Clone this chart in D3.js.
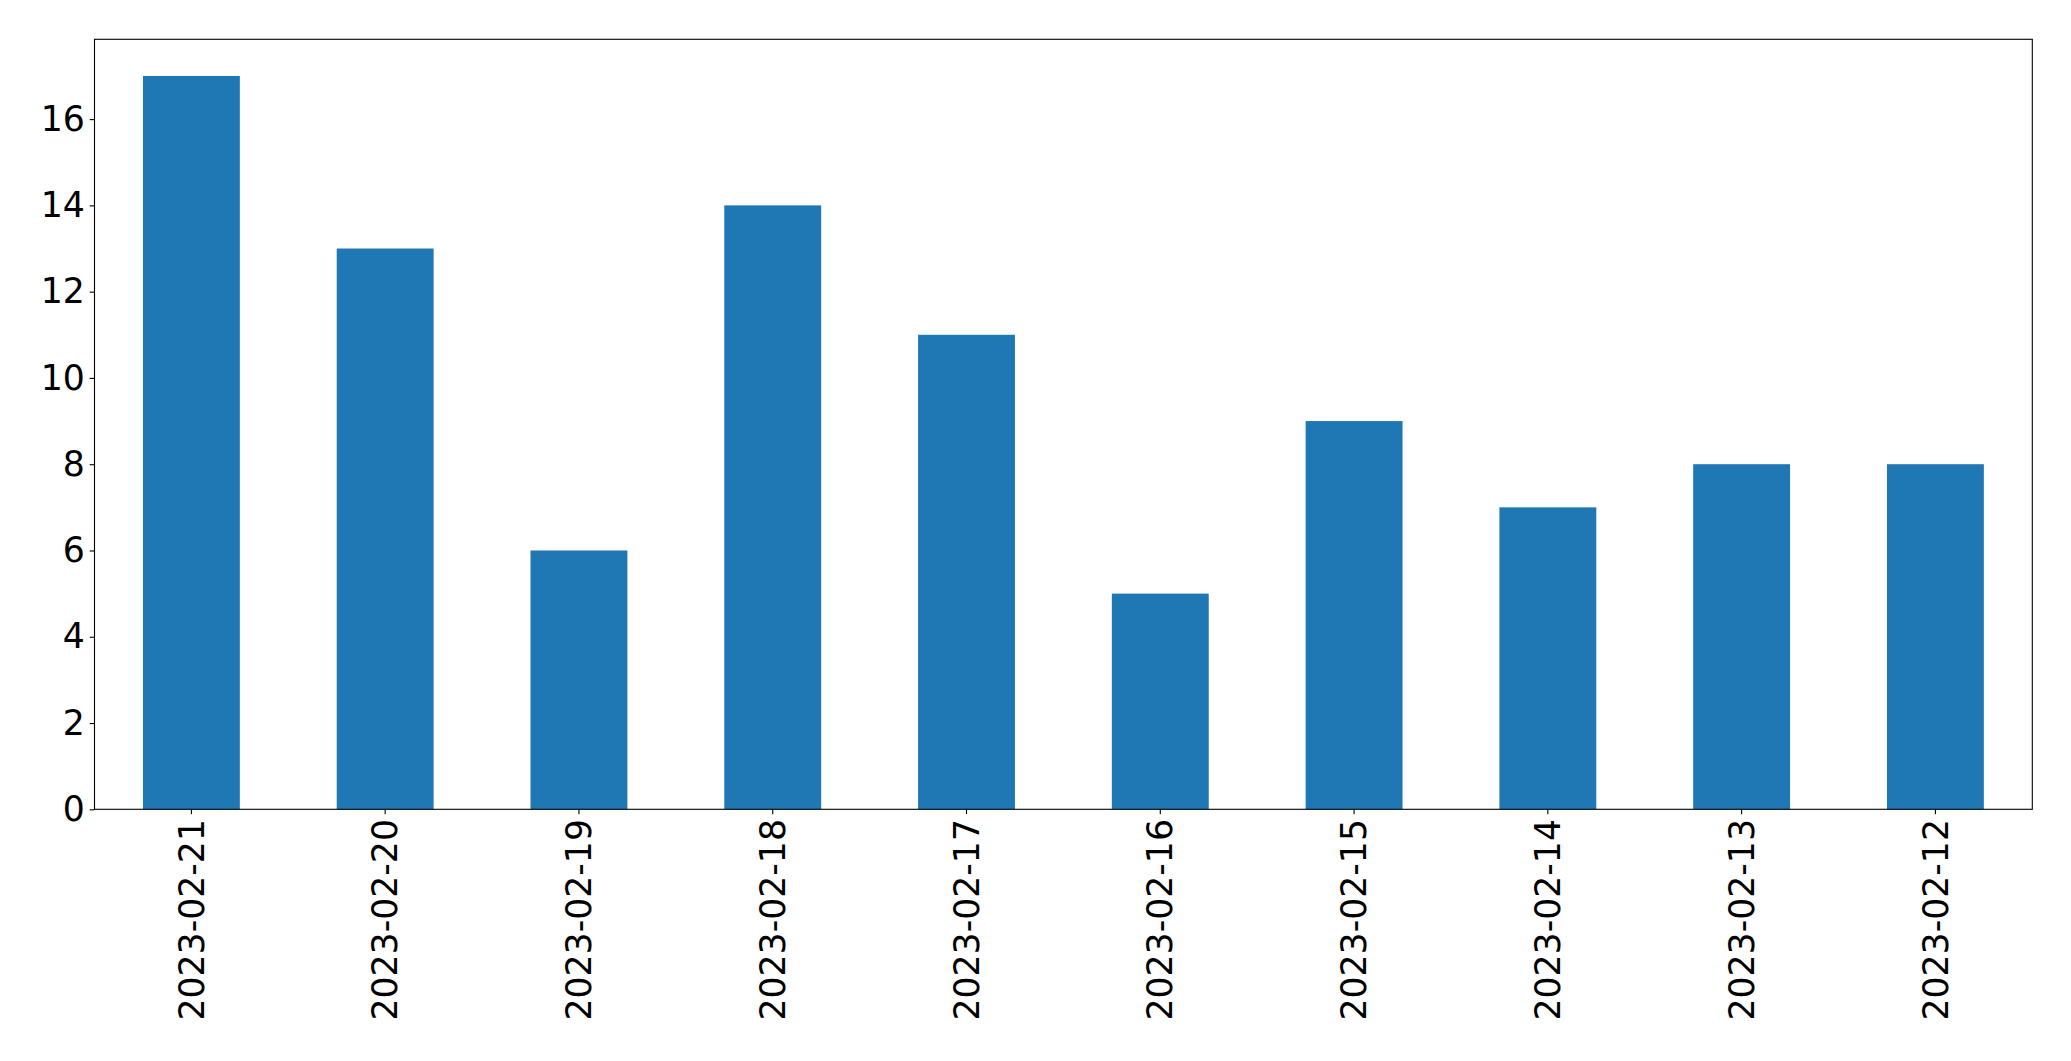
<!DOCTYPE html>
<html>
<head>
<meta charset="utf-8">
<script src="https://cdn.jsdelivr.net/npm/d3@7"></script>
<style>
  html, body { margin: 0; padding: 0; background: #ffffff; }
  svg { display: block; }
  text { font-family: "DejaVu Sans", sans-serif; }
</style>
</head>
<body>
<svg id="chart" width="2071" height="1061"></svg>
<script>
const categories = ["2023-02-21", "2023-02-20", "2023-02-19", "2023-02-18", "2023-02-17",
                    "2023-02-16", "2023-02-15", "2023-02-14", "2023-02-13", "2023-02-12"];
const values = [17, 13, 6, 14, 11, 5, 9, 7, 8, 8];
const yTicks = [0, 2, 4, 6, 8, 10, 12, 14, 16];

const W = 2071, H = 1061;
const margin = { left: 94.5, right: W - 2032.3, top: 39.3, bottom: H - 809.3 };
const plotW = W - margin.left - margin.right;
const plotH = H - margin.top - margin.bottom;
const fontPx = 34.7;
const tickLen = 4.86, tickPad = 4.86;

const svg = d3.select("#chart");
const g = svg.append("g").attr("transform", `translate(${margin.left},${margin.top})`);

const x = d3.scaleBand().domain(categories).range([0, plotW]).paddingInner(0.5).paddingOuter(0.25);
const yMax = d3.max(values) * 1.05;
const y = d3.scaleLinear().domain([0, yMax]).range([plotH, 0]);

g.selectAll("rect.bar")
  .data(values)
  .join("rect")
  .attr("class", "bar")
  .attr("x", (d, i) => x(categories[i]))
  .attr("y", d => y(d))
  .attr("width", x.bandwidth())
  .attr("height", d => y(0) - y(d))
  .attr("fill", "#1f77b4");

// Y axis
const yAxis = d3.axisLeft(y).tickValues(yTicks).tickSize(tickLen).tickPadding(tickPad).tickSizeOuter(0);
const yg = g.append("g").call(yAxis);
yg.select(".domain").remove();
yg.selectAll(".tick line").attr("stroke", "#000").attr("stroke-width", 1.1);
yg.selectAll(".tick text")
  .attr("font-size", fontPx)
  .attr("font-family", "DejaVu Sans, sans-serif")
  .attr("fill", "#000");

// X axis
const xAxis = d3.axisBottom(x).tickSize(tickLen).tickPadding(tickPad).tickSizeOuter(0);
const xg = g.append("g").attr("transform", `translate(0,${plotH})`).call(xAxis);
xg.select(".domain").remove();
xg.selectAll(".tick line").attr("stroke", "#000").attr("stroke-width", 1.1);
xg.selectAll(".tick text")
  .attr("font-size", fontPx)
  .attr("font-family", "DejaVu Sans, sans-serif")
  .attr("fill", "#000")
  .attr("text-anchor", "end")
  .attr("dy", "0.35em")
  .attr("x", 0)
  .attr("y", 0)
  .attr("transform", `translate(0,${tickLen + tickPad}) rotate(-90)`);

// Frame (spines)
g.append("rect")
  .attr("x", 0).attr("y", 0)
  .attr("width", plotW).attr("height", plotH)
  .attr("fill", "none")
  .attr("stroke", "#000")
  .attr("stroke-width", 1.1);
</script>
</body>
</html>
